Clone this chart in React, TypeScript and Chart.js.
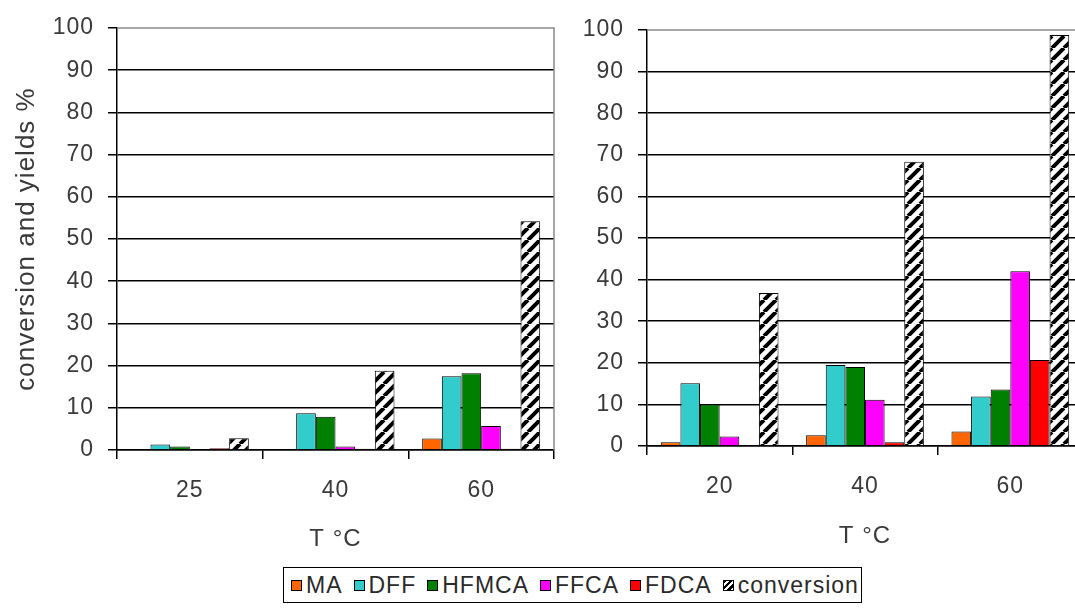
import React, { useEffect, useRef } from 'react';
import { Chart, registerables } from 'chart.js';

Chart.register(...registerables);

// ---------- data ----------
const leftCategories = ['25', '40', '60'];
const rightCategories = ['20', '40', '60'];
const seriesNames = ['MA', 'DFF', 'HFMCA', 'FFCA', 'FDCA', 'conversion'];
const seriesColors = ['#FF6600', '#33CCCC', '#008000', '#FF00FF', '#FF0000', 'hatch'];

const leftMA = [0, 0, 2.7];
const leftDFF = [1.3, 8.7, 17.5];
const leftHFMCA = [0.8, 7.9, 18.2];
const leftFFCA = [0, 0.8, 5.7];
const leftFDCA = [0.4, 0.3, 0.3];
const leftConversion = [2.8, 18.8, 54.2];

const rightMA = [0.9, 2.6, 3.5];
const rightDFF = [15.1, 19.5, 11.9];
const rightHFMCA = [10.0, 19.0, 13.6];
const rightFFCA = [2.3, 11.1, 42.0];
const rightFDCA = [0, 0.9, 20.7];
const rightConversion = [36.8, 68.3, 98.8];

const yMin = 0;
const yMax = 100;
const yStep = 10;
const xTitle = 'T °C';
const yTitle = 'conversion and yields %';

const FONT = "'Liberation Sans', Arial, sans-serif";
const TEXT_COLOR = '#3a3a3a';

function makeHatch(): CanvasPattern | string {
  const s = 12;
  const c = document.createElement('canvas');
  c.width = s;
  c.height = s;
  const g = c.getContext('2d');
  if (!g) return '#fff';
  g.fillStyle = '#fff';
  g.fillRect(0, 0, s, s);
  g.strokeStyle = '#000';
  g.lineWidth = 4;
  g.beginPath();
  for (let k = -1; k <= 1; k++) {
    g.moveTo(k * s, s);
    g.lineTo(k * s + s, 0);
  }
  g.stroke();
  const p = g.createPattern(c, 'repeat');
  return p || '#fff';
}

const spacingPlugin = {
  id: 'letterSpacing',
  beforeUpdate(chart: any) {
    chart.ctx.letterSpacing = '1px';
  },
  beforeDraw(chart: any) {
    chart.ctx.letterSpacing = '1px';
  },
};

const framePlugin = {
  id: 'plotFrame',
  beforeDatasetsDraw(chart: any) {
    const { ctx, chartArea } = chart;
    ctx.save();
    ctx.strokeStyle = '#8a8a8a';
    ctx.lineWidth = 1.5;
    ctx.beginPath();
    ctx.moveTo(chartArea.left, chartArea.top);
    ctx.lineTo(chartArea.right, chartArea.top);
    ctx.lineTo(chartArea.right, chartArea.bottom);
    ctx.stroke();
    ctx.restore();
  },
};

type PanelCfg = {
  categories: string[];
  series: number[][];
  showYTitle: boolean;
  yAxisWidth: number;
  xAxisHeight: number;
  padTop: number;
  padRight: number;
  xTitlePad: number;
};

function buildConfig(p: PanelCfg, hatch: CanvasPattern | string): any {
  const datasets = seriesNames.map((name, i) => ({
    label: name,
    data: p.series[i],
    backgroundColor: seriesColors[i] === 'hatch' ? hatch : seriesColors[i],
    borderColor: '#000',
    borderWidth: 1,
    barPercentage: 1,
    categoryPercentage: 0.81,
  }));
  return {
    type: 'bar',
    data: { labels: p.categories, datasets },
    options: {
      responsive: false,
      animation: false,
      devicePixelRatio: 1,
      layout: { padding: { top: p.padTop, right: p.padRight, left: 0, bottom: 0 } },
      plugins: { legend: { display: false }, tooltip: { enabled: false } },
      scales: {
        x: {
          offset: true,
          grid: {
            offset: true,
            drawOnChartArea: false,
            drawTicks: true,
            tickLength: 9,
            color: '#000',
            lineWidth: 1.5,
          },
          border: { display: true, color: '#000', width: 1.5 },
          ticks: { color: TEXT_COLOR, font: { family: FONT, size: 23 }, padding: 18 },
          title: {
            display: true,
            text: xTitle,
            color: TEXT_COLOR,
            font: { family: FONT, size: 24 },
            padding: { top: p.xTitlePad, bottom: p.xTitlePad },
          },
          afterFit: (s: any) => {
            s.height = p.xAxisHeight;
          },
        },
        y: {
          min: yMin,
          max: yMax,
          ticks: { stepSize: yStep, color: TEXT_COLOR, font: { family: FONT, size: 23 }, padding: 14 },
          grid: {
            color: (c: any) => (c.tick && c.tick.value === yMax ? 'rgba(0,0,0,0)' : '#000'),
            tickColor: '#000',
            tickLength: 9,
            lineWidth: 1.5,
          },
          border: { display: true, color: '#000', width: 1.5 },
          title: {
            display: p.showYTitle,
            text: yTitle,
            color: TEXT_COLOR,
            font: { family: FONT, size: 26 },
            padding: { top: 11, bottom: 11 },
          },
          afterFit: (s: any) => {
            s.width = p.yAxisWidth;
          },
        },
      },
    },
    plugins: [spacingPlugin, framePlugin],
  };
}

function Panel(props: { cfg: PanelCfg; left: number; width: number; height: number }) {
  const ref = useRef<HTMLCanvasElement | null>(null);
  useEffect(() => {
    if (!ref.current) return;
    const chart = new Chart(ref.current, buildConfig(props.cfg, makeHatch()));
    return () => chart.destroy();
  }, []);
  return (
    <canvas
      ref={ref}
      width={props.width}
      height={props.height}
      style={{ position: 'absolute', left: props.left, top: 0, width: props.width, height: props.height }}
    />
  );
}

const hatchCss =
  'repeating-linear-gradient(-45deg, #fff 0px, #fff 2px, #000 2px, #000 4.5px)';

function Legend() {
  return (
    <div
      style={{
        position: 'absolute',
        left: 283,
        top: 567,
        width: 579,
        height: 36,
        boxSizing: 'border-box',
        border: '1px solid #000',
        display: 'flex',
        alignItems: 'center',
        paddingLeft: 7,
        fontFamily: FONT,
        fontSize: 23,
        letterSpacing: '1px',
        color: '#2a2a2a',
        whiteSpace: 'nowrap',
      }}
    >
      {seriesNames.map((name, i) => (
        <span key={name} style={{ display: 'flex', alignItems: 'center', marginRight: 11 }}>
          <span
            style={{
              display: 'inline-block',
              width: 11,
              height: 11,
              boxSizing: 'border-box',
              border: '1px solid #000',
              background: seriesColors[i] === 'hatch' ? hatchCss : seriesColors[i],
              marginRight: 4,
            }}
          />
          <span>{name}</span>
        </span>
      ))}
    </div>
  );
}

export default function App() {
  const leftCfg: PanelCfg = {
    categories: leftCategories,
    series: [leftMA, leftDFF, leftHFMCA, leftFFCA, leftFDCA, leftConversion],
    showYTitle: true,
    yAxisWidth: 117,
    xAxisHeight: 110,
    padTop: 28,
    padRight: 6,
    xTitlePad: 6,
  };
  const rightCfg: PanelCfg = {
    categories: rightCategories,
    series: [rightMA, rightDFF, rightHFMCA, rightFFCA, rightFDCA, rightConversion],
    showYTitle: false,
    yAxisWidth: 87,
    xAxisHeight: 114,
    padTop: 30,
    padRight: 17,
    xTitlePad: 9,
  };
  return (
    <div
      style={{
        position: 'absolute',
        left: 0,
        top: 0,
        width: 1075,
        height: 610,
        overflow: 'hidden',
        background: '#fff',
      }}
    >
      <Panel cfg={leftCfg} left={0} width={560} height={560} />
      <Panel cfg={rightCfg} left={560} width={540} height={560} />
      <Legend />
    </div>
  );
}
